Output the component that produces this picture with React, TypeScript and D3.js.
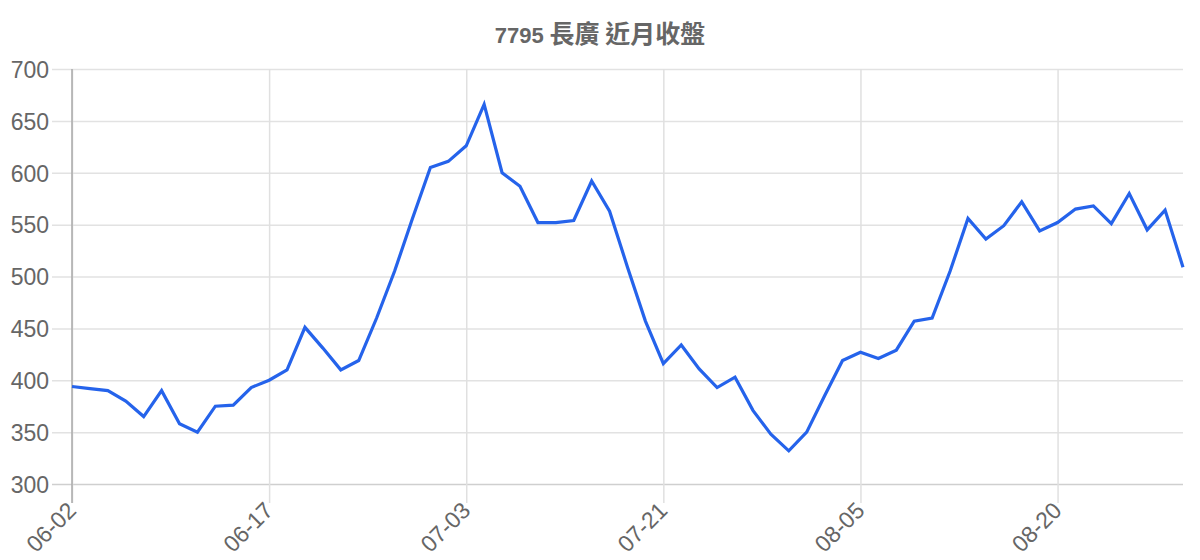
import { select, scalePoint, scaleLinear, line, axisBottom, axisLeft } from "d3";
import { useEffect, useRef } from "react";

const dates = [
  "06-02", "06-03", "06-04", "06-05", "06-06", "06-09", "06-10", "06-11", "06-12", "06-13",
  "06-16", "06-17", "06-18", "06-19", "06-23", "06-24", "06-25", "06-26", "06-27", "06-30",
  "07-01", "07-02", "07-03", "07-04", "07-08", "07-09", "07-10", "07-11", "07-14", "07-15",
  "07-16", "07-17", "07-18", "07-21", "07-22", "07-23", "07-24", "07-25", "07-28", "07-29",
  "07-30", "07-31", "08-01", "08-04", "08-05", "08-06", "08-07", "08-08", "08-11", "08-12",
  "08-13", "08-14", "08-15", "08-18", "08-19", "08-20", "08-21", "08-22", "08-25", "08-26",
  "08-27", "08-28", "08-29",
];

const closes = [
  394, 392, 390, 380, 365, 390, 358, 350, 375, 376,
  393, 400, 410, 451, 431, 410, 419, 460, 505, 556,
  605, 611, 626, 666, 600, 587, 552, 552, 554, 592,
  563, 509, 457, 416, 434, 411, 393, 403, 371, 348,
  332, 350, 385, 419, 427, 421, 429, 457, 460, 505,
  556, 536, 549, 572, 544, 552, 565, 568, 551, 580,
  545, 564, 509,
];

const yTicks = [300, 350, 400, 450, 500, 550, 600, 650, 700];
const xTickLabels = ["06-02", "06-17", "07-03", "07-21", "08-05", "08-20"];

const titleCode = "7795";
const titleName = " 長廣 近月收盤";

export default function App() {
  const svgRef = useRef<SVGSVGElement | null>(null);

  useEffect(() => {
    if (!svgRef.current) return;
    const svg = select(svgRef.current);
    svg.selectAll("*").remove();

    const width = 1200;
    const left = 72;
    const right = 1183;
    const top = 69;
    const bottom = 484;
    const font = "'Liberation Sans', Arial, 'Noto Sans CJK TC', sans-serif";

    const x = scalePoint<string>().domain(dates).range([left, right]);
    const y = scaleLinear().domain([300, 700]).range([bottom, top]);

    // title: CJK glyphs come out larger than the digits in the reference
    const titleText = svg
      .append("text")
      .attr("x", width / 2)
      .attr("y", 43)
      .attr("text-anchor", "middle")
      .attr("font-family", font)
      .attr("font-weight", "bold")
      .attr("fill", "#666");
    titleText.append("tspan").attr("font-size", 22).text(titleCode);
    titleText
      .append("tspan")
      .attr("font-size", 25)
      .attr("font-family", "'Noto Sans CJK TC', sans-serif")
      .text(titleName);

    // horizontal grid + y labels
    const yAxis = svg
      .append("g")
      .attr("transform", `translate(${left},0)`)
      .call(
        axisLeft(y)
          .tickValues(yTicks)
          .tickSizeInner(-(right - left))
          .tickSizeOuter(0)
          .tickPadding(0)
      );
    yAxis.select(".domain").remove();
    yAxis
      .selectAll(".tick line")
      .attr("x1", -20)
      .attr("stroke", (d: any) => (d === 300 ? "#cfcfcf" : "#e2e2e2"))
      .attr("stroke-width", 1.5);
    yAxis
      .selectAll(".tick text")
      .attr("x", -23)
      .attr("dy", "0.36em")
      .attr("font-family", font)
      .attr("font-size", 23)
      .attr("fill", "#666");

    // vertical grid + x labels
    const xAxis = svg
      .append("g")
      .attr("transform", `translate(0,${bottom})`)
      .call(
        axisBottom(x)
          .tickValues(xTickLabels)
          .tickSizeInner(-(bottom - top))
          .tickSizeOuter(0)
      );
    xAxis.select(".domain").remove();
    xAxis
      .selectAll(".tick line")
      .attr("y1", 19)
      .attr("stroke", "#e0e0e0")
      .attr("stroke-width", 1.5);
    xAxis
      .selectAll(".tick text")
      .attr("x", 0)
      .attr("y", 0)
      .attr("dy", 0)
      .attr("transform", "translate(5,28) rotate(-45)")
      .attr("text-anchor", "end")
      .attr("font-family", font)
      .attr("font-size", 23)
      .attr("fill", "#666");

    // y axis line
    svg
      .append("line")
      .attr("x1", left)
      .attr("x2", left)
      .attr("y1", top)
      .attr("y2", bottom + 19)
      .attr("stroke", "#aaa")
      .attr("stroke-width", 1.5);

    const closeLine = line<number>()
      .x((_, i) => x(dates[i]) as number)
      .y((d) => y(d));

    svg
      .append("path")
      .datum(closes)
      .attr("fill", "none")
      .attr("stroke", "#2563eb")
      .attr("stroke-width", 3.2)
      .attr("stroke-linejoin", "miter")
      .attr("d", closeLine as any);
  }, []);

  return (
    <svg
      ref={svgRef}
      width={1200}
      height={560}
      style={{ position: "absolute", left: 0, top: 0, background: "#fff" }}
    ></svg>
  );
}
